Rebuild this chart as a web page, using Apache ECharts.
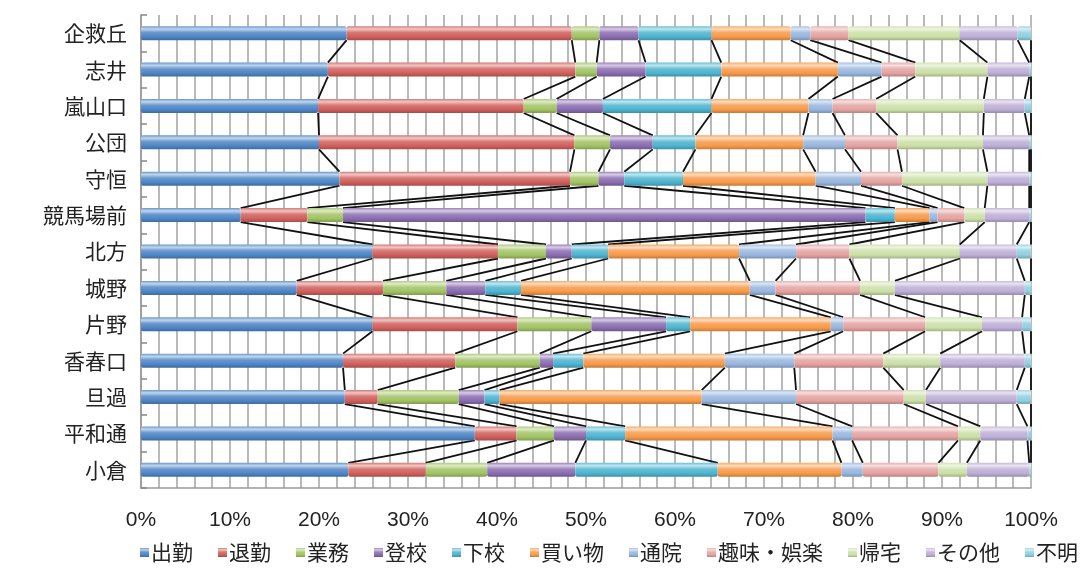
<!DOCTYPE html>
<html>
<head>
<meta charset="utf-8">
<script src="https://cdn.jsdelivr.net/npm/echarts@6/dist/echarts.min.js"></script>
<style>
  html, body { margin: 0; padding: 0; background: #fff; }
  #main { width: 1086px; height: 569px; }
</style>
</head>
<body>
<div id="main"></div>
<script>
const categories = ['企救丘', '志井', '嵐山口', '公団', '守恒', '競馬場前', '北方', '城野', '片野', '香春口', '旦過', '平和通', '小倉']
const xTicks = [0, 10, 20, 30, 40, 50, 60, 70, 80, 90, 100]

// 目的別の割合（%）
const shukkin = [23.1, 21.0, 19.9, 20.0, 22.3, 11.2, 26.0, 17.5, 26.0, 22.7, 22.9, 37.5, 23.3]
const taikin = [25.3, 27.8, 23.1, 28.7, 25.9, 7.5, 14.1, 9.7, 16.3, 12.6, 3.7, 4.7, 8.7]
const gyomu = [3.1, 2.4, 3.7, 4.0, 3.2, 4.0, 5.4, 7.1, 8.3, 9.5, 9.1, 4.2, 6.9]
const tokou = [4.4, 5.5, 5.2, 4.8, 2.9, 58.7, 2.9, 4.4, 8.4, 1.5, 2.9, 3.6, 9.9]
const gekou = [8.2, 8.5, 12.2, 4.8, 6.6, 3.3, 4.1, 4.0, 2.7, 3.4, 1.7, 4.4, 16.0]
const kaimono = [8.9, 13.1, 10.9, 12.1, 14.9, 3.9, 14.7, 25.7, 15.8, 15.9, 22.7, 23.3, 13.9]
const tsuin = [2.2, 4.9, 2.7, 4.7, 5.1, 0.9, 6.4, 2.9, 1.4, 7.8, 10.6, 2.2, 2.4]
const shumi = [4.3, 3.8, 4.9, 5.9, 4.6, 3.0, 6.0, 9.5, 9.2, 10.0, 12.1, 11.9, 8.5]
const kitaku = [12.5, 8.1, 12.1, 9.6, 9.6, 2.3, 12.4, 3.9, 6.4, 6.4, 2.5, 2.5, 3.2]
const sonota = [6.5, 4.7, 4.6, 5.2, 4.7, 5.0, 6.4, 14.6, 4.5, 9.5, 10.2, 5.3, 7.0]
const fumei = [1.5, 0.2, 0.7, 0.2, 0.2, 0.2, 1.6, 0.7, 1.0, 0.7, 1.6, 0.4, 0.2]

const seriesNames = ['出勤', '退勤', '業務', '登校', '下校', '買い物', '通院', '趣味・娯楽', '帰宅', 'その他', '不明']
const seriesData = [shukkin, taikin, gyomu, tokou, gekou, kaimono, tsuin, shumi, kitaku, sonota, fumei]
const colors = ['#4F86C6', '#D0605C', '#A2C364', '#8A6DB0', '#4DB4CF', '#F79A4A', '#98B6DE', '#E3A3A1', '#CCDFA8', '#BDAED6', '#8FCFE0']

const BAR_W = 14

function shade(hex, f) {
  const n = parseInt(hex.slice(1), 16)
  let r = (n >> 16) & 255, g = (n >> 8) & 255, b = n & 255
  const t = f < 0 ? 0 : 255
  const p = Math.abs(f)
  r = Math.round(r + (t - r) * p)
  g = Math.round(g + (t - g) * p)
  b = Math.round(b + (t - b) * p)
  return 'rgb(' + r + ',' + g + ',' + b + ')'
}

// 光沢のある棒の色
function barColor(c) {
  return new echarts.graphic.LinearGradient(0, 0, 0, 1, [
    { offset: 0, color: shade(c, 0.15) },
    { offset: 0.2, color: shade(c, 0.65) },
    { offset: 0.45, color: shade(c, 0.15) },
    { offset: 0.75, color: c },
    { offset: 1, color: shade(c, -0.2) },
  ])
}

// 系列線：各系列の右端を隣の棒とつなぐ
const lineData = []
const cum = categories.map(() => 0)
seriesData.forEach((arr) => {
  const ends = arr.map((v, i) => (cum[i] += v))
  for (let i = 0; i < categories.length - 1; i++) {
    lineData.push([Math.min(ends[i], 100), i, Math.min(ends[i + 1], 100), i + 1])
  }
})

const myChart = echarts.init(document.getElementById('main'))

const series = seriesNames.map((name, k) => ({
  name: name,
  type: 'bar',
  stack: 'total',
  barWidth: BAR_W,
  data: seriesData[k],
  itemStyle: {
    color: barColor(colors[k]),
    borderRadius: 2,
  },
  emphasis: { disabled: true },
}))

series.push({
  type: 'custom',
  z: 1,
  silent: true,
  encode: { x: [0, 2], y: [1, 3] },
  data: lineData,
  renderItem: function (params, api) {
    const p1 = api.coord([api.value(0), api.value(1)])
    const p2 = api.coord([api.value(2), api.value(3)])
    const h = BAR_W / 2
    return {
      type: 'line',
      shape: { x1: p1[0], y1: p1[1] + h, x2: p2[0], y2: p2[1] - h },
      style: { stroke: '#111', lineWidth: 1.8 },
    }
  },
})

const option = {
  animation: false,
  color: colors,
  grid: {
    left: 141,
    right: 55,
    top: 15,
    bottom: 81,
  },
  legend: {
    data: seriesNames,
    left: 135,
    top: 537,
    icon: 'rect',
    itemWidth: 9,
    itemHeight: 9,
    itemGap: 25,
    textStyle: {
      fontFamily: 'Noto Sans CJK JP',
      fontSize: 21,
      color: '#222',
      padding: [0, 0, 0, -3],
    },
  },
  xAxis: {
    type: 'value',
    min: 0,
    max: 100,
    interval: 10,
    axisLine: { show: true, lineStyle: { color: '#999', width: 1.5 } },
    axisTick: { show: false },
    axisLabel: {
      margin: 22,
      fontSize: 21,
      color: '#222',
      fontFamily: 'Liberation Sans Narrow, Liberation Sans, sans-serif',
      formatter: function (v) {
        return xTicks.indexOf(v) >= 0 ? v + '%' : ''
      },
    },
    splitLine: { show: true, lineStyle: { color: '#a3a3a3', width: 1.5 } },
    minorTick: { show: false, splitNumber: 5 },
    minorSplitLine: { show: true, lineStyle: { color: '#a3a3a3', width: 1.5 } },
  },
  yAxis: {
    type: 'category',
    inverse: true,
    data: categories,
    axisLine: { show: true, lineStyle: { color: '#999', width: 1.5 } },
    axisTick: { show: true, inside: true, length: 6, lineStyle: { color: '#888', width: 1.5 } },
    axisLabel: {
      margin: 14,
      fontSize: 21,
      color: '#222',
      fontFamily: 'Noto Sans CJK JP',
    },
    splitLine: { show: false },
  },
  series: series,
}

option && myChart.setOption(option)
</script>
</body>
</html>
